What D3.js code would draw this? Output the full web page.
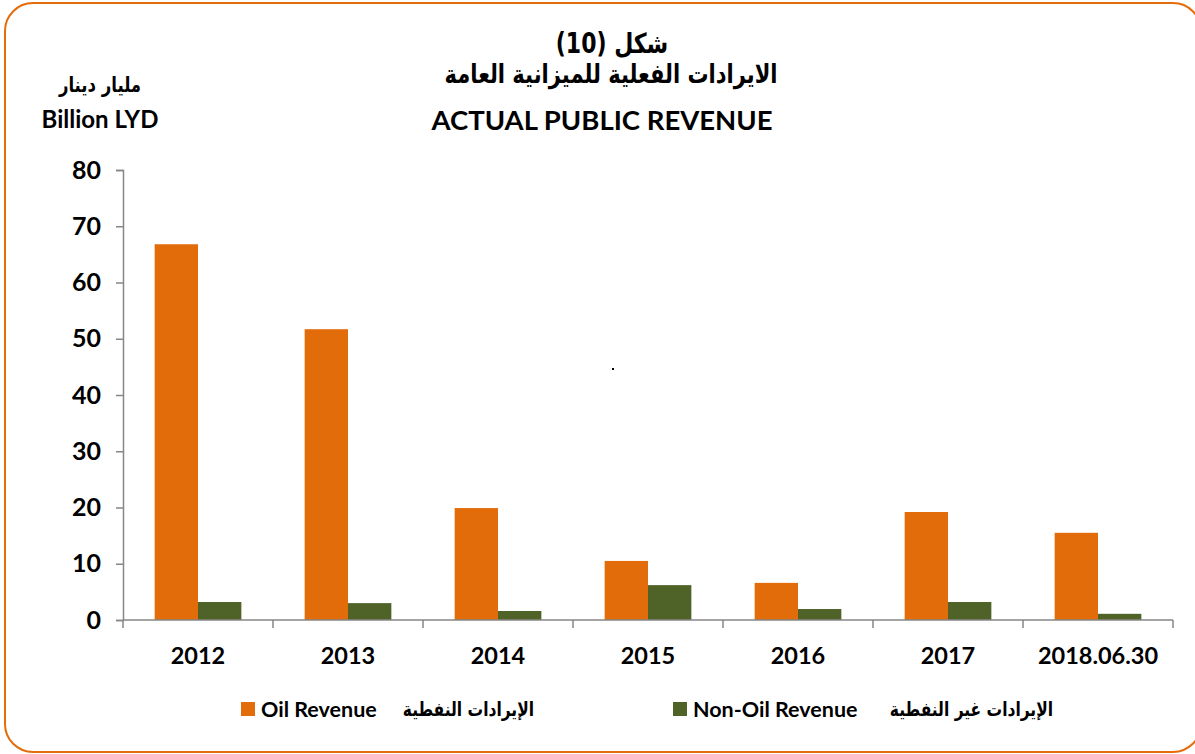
<!DOCTYPE html>
<html>
<head>
<meta charset="utf-8">
<script src="https://cdn.jsdelivr.net/npm/d3@7"></script>
<style>
  html, body { margin: 0; padding: 0; background: #fff; }
  .en { font-family: "Lato", "Open Sans", sans-serif; font-weight: bold; }
  .ar { font-family: "DejaVu Sans", sans-serif; font-weight: bold; }
</style>
</head>
<body>
<div id="container"></div>
<script>
// Data
const categories = ["2012", "2013", "2014", "2015", "2016", "2017", "2018.06.30"];
const oilRevenue = [66.8, 51.7, 19.9, 10.5, 6.6, 19.2, 15.5];
const nonOilRevenue = [3.2, 3.0, 1.6, 6.2, 1.95, 3.2, 1.1];
const yTicks = [0, 10, 20, 30, 40, 50, 60, 70, 80];
const seriesKeys = ["oil", "nonOil"];
const seriesColors = ["#E36C0A", "#4F6228"];
const legendEn = ["Oil Revenue", "Non-Oil Revenue"];
const legendAr = ["الإيرادات النفطية", "الإيرادات غير النفطية"];

const width = 1195;
const height = 754;
const margin = {top: 170, left: 123, right: 22, bottom: 134};

const svg = d3.select("#container")
  .append("svg")
  .attr("width", width)
  .attr("height", height);

// frame
svg.append("rect")
  .attr("x", 5).attr("y", 3)
  .attr("width", 1196).attr("height", 749)
  .attr("rx", 28).attr("ry", 28)
  .attr("fill", "none")
  .attr("stroke", "#E46C0A")
  .attr("stroke-width", 2);

const rows = categories.map((c, i) => ({cat: c, oil: oilRevenue[i], nonOil: nonOilRevenue[i]}));

const x = d3.scaleBand()
  .domain(categories)
  .range([margin.left, width - margin.right])
  .padding(0);

const xSub = d3.scaleBand()
  .domain(seriesKeys)
  .range([0, x.bandwidth()])
  .paddingInner(0)
  .paddingOuter(0.73);

const y = d3.scaleLinear()
  .domain([0, 80])
  .range([height - margin.bottom, margin.top]);

//////////////////// BARS ////////////////////
svg.append("g")
  .selectAll("g")
  .data(rows)
  .join("g")
  .attr("transform", d => `translate(${x(d.cat)},0)`)
  .selectAll("rect")
  .data(d => seriesKeys.map((k, i) => ({key: k, value: d[k], color: seriesColors[i]})))
  .join("rect")
  .attr("x", d => xSub(d.key))
  .attr("y", d => y(d.value))
  .attr("width", xSub.bandwidth())
  .attr("height", d => y(0) - y(d.value))
  .attr("fill", d => d.color);

//////////////////// AXES ////////////////////
const yAxis = svg.append("g")
  .attr("transform", `translate(${margin.left},0)`)
  .call(d3.axisLeft(y).tickValues(yTicks).tickSize(7).tickSizeOuter(7).tickPadding(15));
yAxis.select(".domain").attr("stroke", "#868686").attr("stroke-width", 1.5);
yAxis.selectAll(".tick line").attr("stroke", "#868686").attr("stroke-width", 1.5);
yAxis.selectAll(".tick text")
  .attr("class", "en")
  .attr("font-size", 25)
  .attr("fill", "#000");

const xAxis = svg.append("g")
  .attr("transform", `translate(0,${y(0)})`);
xAxis.append("line")
  .attr("x1", margin.left).attr("x2", width - margin.right)
  .attr("stroke", "#868686").attr("stroke-width", 1.5);
const bounds = categories.map(c => x(c)).concat([x.range()[1]]);
xAxis.selectAll("line.tk")
  .data(bounds)
  .join("line")
  .attr("class", "tk")
  .attr("x1", d => d).attr("x2", d => d)
  .attr("y1", 0).attr("y2", 8)
  .attr("stroke", "#868686").attr("stroke-width", 1.5);
xAxis.selectAll("text")
  .data(categories)
  .join("text")
  .attr("class", "en")
  .attr("x", d => x(d) + x.bandwidth() / 2)
  .attr("y", 44)
  .attr("text-anchor", "middle")
  .attr("font-size", 23.5)
  .text(d => d);

//////////////////// TITLES ////////////////////
// Arabic text is stretched a little in height to match the taller Arial glyphs
const arText = (parent, tx, ty, size, anchor, str) =>
  parent.append("text").attr("class", "ar")
    .attr("transform", `translate(${tx},${ty}) scale(1,1.25)`)
    .attr("text-anchor", anchor)
    .attr("font-size", size)
    .text(str);

arText(svg, 612, 53, 22, "middle", "شكل (10)");
arText(svg, 611, 83, 21, "middle", "الايرادات الفعلية للميزانية العامة");
svg.append("text").attr("class", "en")
  .attr("x", 602).attr("y", 130)
  .attr("text-anchor", "middle").attr("font-size", 27.5)
  .text("ACTUAL PUBLIC REVENUE");

arText(svg, 100, 92, 16.5, "middle", "مليار دينار");
svg.append("text").attr("class", "en")
  .attr("x", 100).attr("y", 128)
  .attr("text-anchor", "middle").attr("font-size", 24)
  .text("Billion LYD");

// stray dot
svg.append("rect")
  .attr("x", 612).attr("y", 368)
  .attr("width", 2).attr("height", 2)
  .attr("fill", "#000");

//////////////////// LEGEND ////////////////////
const legendX = [241, 673];
const legend = svg.append("g")
  .selectAll("g")
  .data(seriesKeys)
  .join("g")
  .attr("transform", (d, i) => `translate(${legendX[i]},702)`);
legend.append("rect")
  .attr("width", 14).attr("height", 14)
  .attr("fill", (d, i) => seriesColors[i]);
legend.append("text")
  .attr("class", "en")
  .attr("x", 20).attr("y", 15)
  .attr("font-size", 21.5)
  .text((d, i) => legendEn[i]);
legend.each(function(d, i) {
  arText(d3.select(this), i === 0 ? 293 : 380, 14, 15.5, "end", legendAr[i]);
});
</script>
</body>
</html>
